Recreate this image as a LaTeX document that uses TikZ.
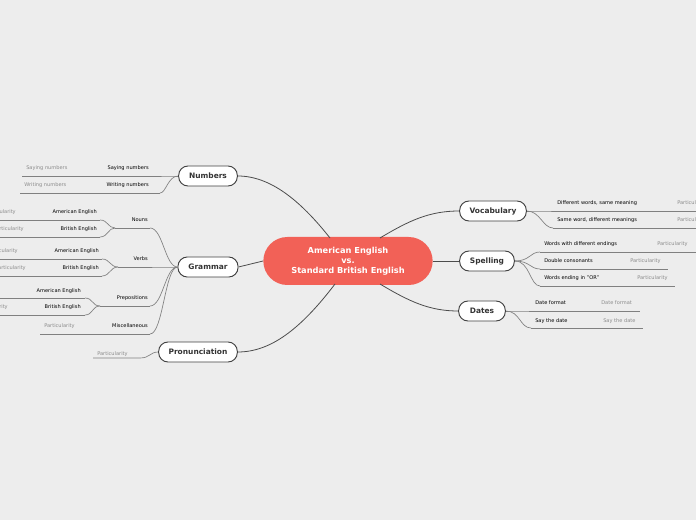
\documentclass[tikz,border=0pt]{standalone}
\usepackage{fontspec}
\setmainfont{DejaVu Sans}
\definecolor{centerred}{HTML}{F26157}
\newcommand\lleaf[6]{%
  \node[lbl,anchor=base east] (#1) at (#2,#3) {#4};
  \draw[ln] (#5,#3+6) -- (#6,#3+6);}
\newcommand\gleaf[3]{\node[gl,anchor=base west] at (#1,#2) {#3};}
\newcommand\rleaf[6]{%
  \node[lbl,anchor=base west] (#1) at (#2,#3) {#4};
  \node[gl,anchor=base west] at (#6,#3) {Particularity};
  \draw[ln] (#2-4,#3+6) -- (#5,#3+6);}
\begin{document}
\begin{tikzpicture}[x=0.75pt,y=-0.75pt,
  topic/.style={draw=black!75,line width=0.7pt,fill=white,rounded corners=7pt,minimum height=15pt,inner sep=0pt,font=\fontsize{5.6}{6}\selectfont\bfseries,text=black!80},
  lbl/.style={font=\fontsize{3.8}{4}\selectfont,inner sep=0pt,text=black},
  gl/.style={font=\fontsize{3.8}{4}\selectfont,inner sep=0pt,text=black!45},
  br/.style={draw=black!70,line width=0.6pt},
  ln/.style={draw=black!50,line width=0.5pt}]
\fill[black!7] (0,0) rectangle (696,520);
\clip (0,0) rectangle (696,520);
\node[fill=centerred,rounded corners=18pt,minimum width=127pt,minimum height=36pt,align=center,text=white,font=\fontsize{6.2}{7.5}\selectfont\bfseries] (c) at (348,261) {American English\\vs.\\Standard British English};
\node[topic,minimum width=44pt] (num) at (208,176) {Numbers};
\node[topic,minimum width=45pt] (gra) at (208,267) {Grammar};
\node[topic,minimum width=59pt] (pro) at (198,352) {Pronunciation};
\node[topic,minimum width=50pt] (voc) at (493,211) {Vocabulary};
\node[topic,minimum width=41pt] (spe) at (487,261) {Spelling};
\node[topic,minimum width=35pt] (dat) at (482,311) {Dates};
\draw[br] (330,238) .. controls (300,200) and (270,176) .. (num.east);
\draw[br] (c.west) -- (gra.east);
\draw[br] (335,284) .. controls (300,330) and (270,352) .. (pro.east);
\draw[br] (380,238) .. controls (410,220) and (430,211) .. (voc.west);
\draw[br] (c.east) -- (spe.west);
\draw[br] (380,284) .. controls (410,302) and (430,311) .. (dat.west);
% Numbers
\lleaf{sn}{149}{170}{Saying numbers}{22}{160}
\lleaf{wn}{149}{187}{Writing numbers}{20}{160}
\gleaf{26}{170}{Saying numbers}\gleaf{24}{187}{Writing numbers}
\draw[ln] (num.west) .. controls (168,176) and (168,176) .. (160,176);
\draw[ln] (num.west) .. controls (168,176) and (166,193) .. (160,193);
% Grammar subs
\lleaf{no}{148}{222}{Nouns}{115}{150}
\lleaf{ve}{148}{261}{Verbs}{118}{150}
\lleaf{pr}{148}{300}{Prepositions}{100}{150}
\lleaf{mi}{148}{328}{Miscellaneous}{40}{150}
\foreach \y in {228,267,306,334}{\draw[ln] (gra.west) .. controls (165,267) and (163,\y) .. (150,\y);}
\lleaf{a1}{97}{214}{American English}{0}{100}
\lleaf{b1}{97}{231}{British English}{0}{100}
\draw[ln] (115,228) .. controls (108,228) and (108,220) .. (100,220);
\draw[ln] (115,228) .. controls (108,228) and (108,237) .. (100,237);
\lleaf{a2}{99}{253}{American English}{0}{102}
\lleaf{b2}{99}{270}{British English}{0}{102}
\draw[ln] (118,267) .. controls (110,267) and (110,259) .. (102,259);
\draw[ln] (118,267) .. controls (110,267) and (110,276) .. (102,276);
\lleaf{a3}{81}{292}{American English}{0}{85}
\lleaf{b3}{81}{309}{British English}{0}{85}
\draw[ln] (100,306) .. controls (92,306) and (93,298) .. (85,298);
\draw[ln] (100,306) .. controls (92,306) and (93,315) .. (85,315);
\node[gl,anchor=base east] at (16,214) {Particularity};
\node[gl,anchor=base east] at (24,231) {Particularity};
\node[gl,anchor=base east] at (18,253) {Particularity};
\node[gl,anchor=base east] at (26,270) {Particularity};
\node[gl,anchor=base east] at (-8,292) {Particularity};
\node[gl,anchor=base east] at (8,309) {Particularity};
\gleaf{44}{328}{Particularity}
% Pronunciation
\gleaf{97}{355}{Particularity}
\draw[ln] (93,358) -- (140,358) .. controls (150,358) and (150,352) .. (pro.west);
% right leaves
\rleaf{d1}{557}{205}{Different words, same meaning}{700}{677}
\rleaf{d2}{557}{222}{Same word, different meanings}{700}{677}
\draw[ln] (voc.east) .. controls (540,211) and (543,211) .. (553,211);
\draw[ln] (voc.east) .. controls (540,211) and (543,228) .. (553,228);
\rleaf{s1}{544}{246}{Words with different endings}{696}{657}
\rleaf{s2}{544}{263}{Double consonants}{668}{630}
\rleaf{s3}{544}{280}{Words ending in ''OR''}{675}{637}
\foreach \y in {252,269,286}{\draw[ln] (spe.east) .. controls (530,261) and (530,\y) .. (540,\y);}
\node[lbl,anchor=base west] (df) at (535,305) {Date format};
\node[gl,anchor=base west] at (601,305) {Date format};
\draw[ln] (531,311) -- (640,311);
\node[lbl,anchor=base west] (sd) at (535,322) {Say the date};
\node[gl,anchor=base west] at (603,322) {Say the date};
\draw[ln] (531,328) -- (643,328);
\draw[ln] (dat.east) .. controls (520,311) and (520,311) .. (531,311);
\draw[ln] (dat.east) .. controls (520,311) and (520,328) .. (531,328);
\end{tikzpicture}
\end{document}
